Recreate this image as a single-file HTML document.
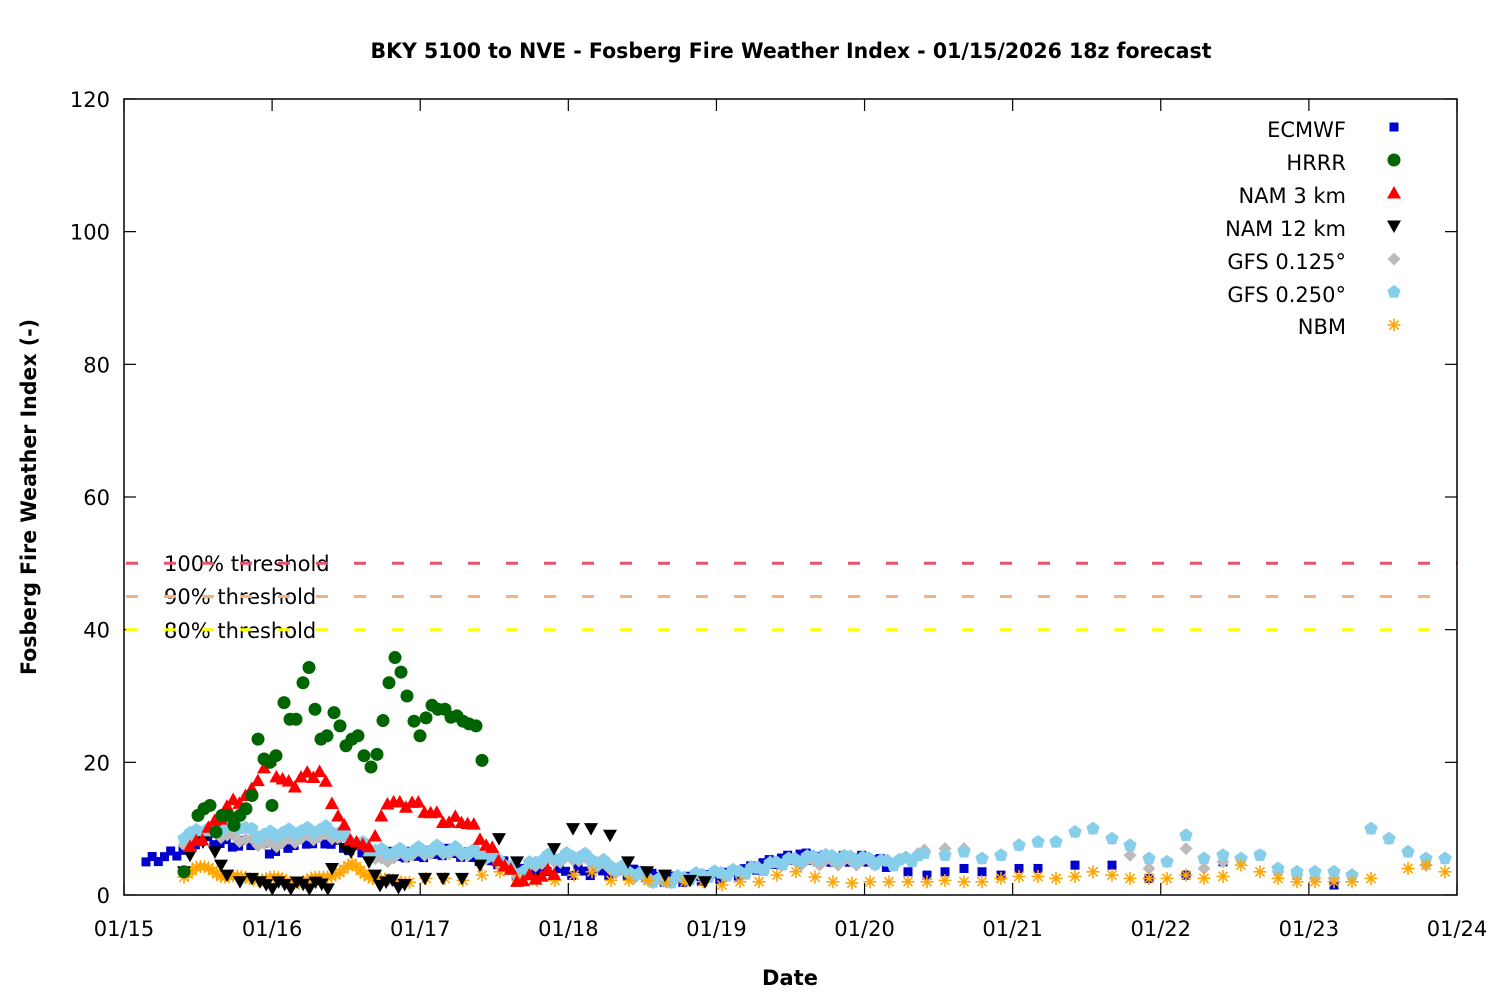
<!DOCTYPE html>
<html><head><meta charset="utf-8"><style>
html,body{margin:0;padding:0;background:#fff;}
svg{display:block;font-family:"DejaVu Sans","Liberation Sans",sans-serif;}
</style></head><body>
<svg id="s" width="1500" height="1000" viewBox="0 0 1500 1000" xmlns="http://www.w3.org/2000/svg">
<rect width="1500" height="1000" fill="#fff"/>
<text x="791" y="58" text-anchor="middle" font-size="21" font-weight="bold" textLength="841" lengthAdjust="spacingAndGlyphs">BKY 5100 to NVE - Fosberg Fire Weather Index - 01/15/2026 18z forecast</text>
<text x="790" y="985" text-anchor="middle" font-size="21" font-weight="bold">Date</text>
<text transform="translate(36,497) rotate(-90)" text-anchor="middle" font-size="21" font-weight="bold" textLength="356" lengthAdjust="spacingAndGlyphs">Fosberg Fire Weather Index (-)</text>
<g id="grid"></g>
<g id="data"></g>
<g id="thr" font-size="21">
<text x="164" y="571">100% threshold</text>
<text x="164" y="604">90% threshold</text>
<text x="164" y="638">80% threshold</text>
<line x1="124" x2="1457" y1="563.3" y2="563.3" stroke="#e8546f" stroke-width="3" stroke-dasharray="12 26" stroke-dashoffset="-2"/>
<line x1="124" x2="1457" y1="596.5" y2="596.5" stroke="#f4b482" stroke-width="3" stroke-dasharray="12 26" stroke-dashoffset="-2"/>
<line x1="124" x2="1457" y1="629.7" y2="629.7" stroke="#ffff00" stroke-width="3" stroke-dasharray="12 26" stroke-dashoffset="-2"/>
</g>
<rect x="124" y="99" width="1333" height="796" fill="none" stroke="#000" stroke-width="1.5"/>
<g id="leg" font-size="21" text-anchor="end">
<text x="1346" y="137">ECMWF</text>
<text x="1346" y="170">HRRR</text>
<text x="1346" y="203">NAM 3 km</text>
<text x="1346" y="236">NAM 12 km</text>
<text x="1346" y="269">GFS 0.125°</text>
<text x="1346" y="302">GFS 0.250°</text>
<text x="1346" y="334">NBM</text>
</g>
<g id="legm"></g>
</svg>
<script>
var NS="http://www.w3.org/2000/svg";
function el(p,t,a){var e=document.createElementNS(NS,t);for(var k in a)e.setAttribute(k,a[k]);p.appendChild(e);return e;}
var g=document.getElementById('grid');
for(var i=0;i<=6;i++){var y=895-i*132.67;
 el(g,'line',{x1:124,x2:136,y1:y,y2:y,stroke:'#000','stroke-width':1.2});
 el(g,'line',{x1:1445,x2:1457,y1:y,y2:y,stroke:'#000','stroke-width':1.2});
 var t=el(g,'text',{x:110,y:y+8,'text-anchor':'end','font-size':21});t.textContent=String(i*20);}
var days=['01/15','01/16','01/17','01/18','01/19','01/20','01/21','01/22','01/23','01/24'];
for(var i=0;i<=9;i++){var x=124+i*148.11;
 el(g,'line',{x1:x,x2:x,y1:895,y2:883,stroke:'#000','stroke-width':1.2});
 el(g,'line',{x1:x,x2:x,y1:99,y2:111,stroke:'#000','stroke-width':1.2});
 var t=el(g,'text',{x:x,y:936,'text-anchor':'middle','font-size':21});t.textContent=days[i];}
var d=document.getElementById('data');
function Y(v){return 895-v*6.633;}
function interp(k,x){for(var i=0;i<k.length-1;i++){if(x>=k[i][0]&&x<=k[i+1][0]){var f=(x-k[i][0])/(k[i+1][0]-k[i][0]||1);return k[i][1]+f*(k[i+1][1]-k[i][1]);}}return null;}
function mk(p,type,x,y){
 if(type=='sq')el(p,'rect',{x:x-4.5,y:y-4.5,width:9,height:9,fill:'#0000cc'});
 else if(type=='ci')el(p,'circle',{cx:x,cy:y,r:6.5,fill:'#006400'});
 else if(type=='up')el(p,'polygon',{points:(x-7)+','+(y+5.5)+' '+(x+7)+','+(y+5.5)+' '+x+','+(y-7),fill:'#ff0000'});
 else if(type=='dn')el(p,'polygon',{points:(x-7)+','+(y-5.5)+' '+(x+7)+','+(y-5.5)+' '+x+','+(y+7),fill:'#000'});
 else if(type=='di')el(p,'polygon',{points:x+','+(y-6.5)+' '+(x+6.5)+','+y+' '+x+','+(y+6.5)+' '+(x-6.5)+','+y,fill:'#bbbbbb'});
 else if(type=='pe'){var s='';for(var j=0;j<5;j++){var a=-Math.PI/2+j*2*Math.PI/5;s+=(x+7*Math.cos(a))+','+(y+7*Math.sin(a))+' ';}el(p,'polygon',{points:s,fill:'#87ceeb'});}
 else if(type=='as'){for(var j=0;j<4;j++){var a=j*Math.PI/4;el(p,'line',{x1:x-6.5*Math.cos(a),y1:y-6.5*Math.sin(a),x2:x+6.5*Math.cos(a),y2:y+6.5*Math.sin(a),stroke:'#ffa500','stroke-width':1.6});}}
}
function series(type,segs,jit){
 segs.forEach(function(s){var k=s.k,st=s.st;for(var x=k[0][0];x<=k[k.length-1][0]+0.01;x+=st){var v=interp(k,x);if(v==null)continue;var j=jit?jit*Math.sin(x*1.7):0;mk(d,type,x,Y(v+j));}});
}
function pts(type,arr){arr.forEach(function(p){mk(d,type,p[0],Y(p[1]));});}
series('sq',[{st:6.17,k:[[146,5],[180,6.5],[200,8.5],[215,8],[240,7.5],[255,8],[270,6.5],[300,8],[330,8],[350,7],[380,6],[420,6],[450,6.5],[480,5.5],[500,5],[515,3.5],[540,3.5],[600,3.5],[640,3.5],[660,2.5],[690,2.5],[720,3],[740,3.5],[770,5],[800,6],[830,5.5],[870,5.5],[890,4.5]]}],0.6);
pts('sq',[[908,3.5],[927,3],[945,3.5],[964,4],[982,3.5],[1001,3],[1019,4],[1038,4],[1075,4.5],[1112,4.5],[1149,2.5],[1186,3],[1223,5],[1260,6],[1297,3],[1334,1.5]]);
series('di',[{st:6.17,k:[[184,8],[210,9.5],[240,8.5],[270,7.5],[300,8.5],[330,9],[360,7.5],[380,5],[400,6],[440,6.5],[480,6],[500,5],[520,3],[540,5],[580,5.5],[600,4.5],[620,3.5],[660,2],[700,3],[740,3.5],[780,5],[820,5],[860,5],[900,5],[925,6.5]]}],0.5);
pts('di',[[945,7],[964,7],[982,5.5],[1001,6],[1019,7.5],[1038,8],[1056,8],[1075,9.5],[1093,10],[1112,8.5],[1130,6],[1149,4],[1167,5],[1186,7],[1204,4],[1223,5],[1241,5.5],[1260,6],[1278,3.5],[1297,3],[1315,2.5],[1334,2.5],[1352,3],[1371,10],[1389,8.5],[1408,6.5],[1426,4.5],[1445,5.5]]);
series('pe',[{st:6.17,k:[[184,9],[210,10],[240,10.5],[260,9],[290,9.5],[330,10],[355,8],[380,6.5],[400,6.5],[440,7],[470,6.5],[500,5.5],[515,3],[540,5.5],[580,6],[600,5],[620,4],[660,2],[700,3],[740,3.5],[760,4],[780,5],[820,5.8],[860,5.5],[890,4.8],[925,6]]}],0.5);
pts('pe',[[945,6],[964,6.5],[982,5.5],[1001,6],[1019,7.5],[1038,8],[1056,8],[1075,9.5],[1093,10],[1112,8.5],[1130,7.5],[1149,5.5],[1167,5],[1186,9],[1204,5.5],[1223,6],[1241,5.5],[1260,6],[1278,4],[1297,3.5],[1315,3.5],[1334,3.5],[1352,3],[1371,10],[1389,8.5],[1408,6.5],[1426,5.5],[1445,5.5]]);
series('as',[{st:4.1,k:[[184,3],[196,4],[210,4],[222,3],[240,2.5],[270,2.5],[300,2],[320,2.5],[340,3.5],[352,4.5],[362,3.5],[376,2.5],[390,2],[410,2.2]]}],0.3);
pts('as',[[426,2.5],[445,2.5],[463,2.2],[482,3],[500,3.5],[518,2.2],[537,2.2],[555,2.2],[574,3],[592,3.5],[611,2.2],[629,2.2],[648,2.2],[666,2],[685,2],[703,2],[722,1.5],[740,2],[759,2],[777,3],[796,3.5],[815,2.7],[833,2],[852,1.8],[870,2],[889,2],[908,2],[927,2],[945,2.2],[964,2],[982,2],[1001,2.5],[1019,2.8],[1038,2.8],[1056,2.5],[1075,2.8],[1093,3.5],[1112,3],[1130,2.5],[1149,2.5],[1167,2.5],[1186,3],[1204,2.5],[1223,2.8],[1241,4.5],[1260,3.5],[1278,2.5],[1297,2],[1315,2],[1334,2],[1352,2],[1371,2.5],[1408,4],[1426,4.5],[1445,3.5]]);
series('dn',[{st:6.17,k:[[260,1.5],[330,1.5]]},{st:6.17,k:[[380,2],[408,1.5]]}],0.6);
pts('dn',[[184,3.5],[190,6],[203,8],[215,6.5],[221,4.5],[227,3],[240,2],[252,2.5],[332,4],[345,7],[351,6.5],[369,5],[375,3],[425,2.5],[443,2.5],[462,2.5],[480,4.5],[499,8.5],[517,5],[536,2.5],[554,7],[573,10],[591,10],[610,9],[628,5],[647,3.5],[665,3],[690,2.2],[705,2]]);
series('up',[{st:6.17,k:[[190,7],[200,8.5],[215,11],[232,14],[250,15],[256,17.5],[270,20],[280,17.5],[292,16.5],[304,18],[320,18.5],[328,16],[340,11],[352,8.5],[364,7],[376,9],[388,14.5],[400,13.5],[412,14],[430,12.5],[448,11],[460,11.5],[472,10.5],[484,8],[496,6],[508,4],[514,2.5],[526,2.3],[540,3],[556,3.5]]}],0.6);
pts('ci',[[184,3.5],[198,12],[204,13],[210,13.5],[216,9.5],[222,12],[228,12],[234,10.5],[240,12],[246,13],[252,15],[258,23.5],[264,20.5],[270,20],[276,21],[272,13.5],[284,29],[290,26.5],[296,26.5],[303,32],[309,34.3],[315,28],[321,23.5],[327,24],[334,27.5],[340,25.5],[346,22.5],[352,23.5],[358,24],[364,21],[371,19.3],[377,21.2],[383,26.3],[389,32],[395,35.8],[401,33.6],[407,30],[414,26.2],[420,24],[426,26.7],[432,28.6],[438,28],[445,28],[451,26.8],[457,27],[463,26.2],[469,25.8],[476,25.5],[482,20.3]]);
var lm=document.getElementById('legm');
['sq','ci','up','dn','di','pe','as'].forEach(function(t,i){mk(lm,t,1394,127+i*33);});
</script>
</body></html>
